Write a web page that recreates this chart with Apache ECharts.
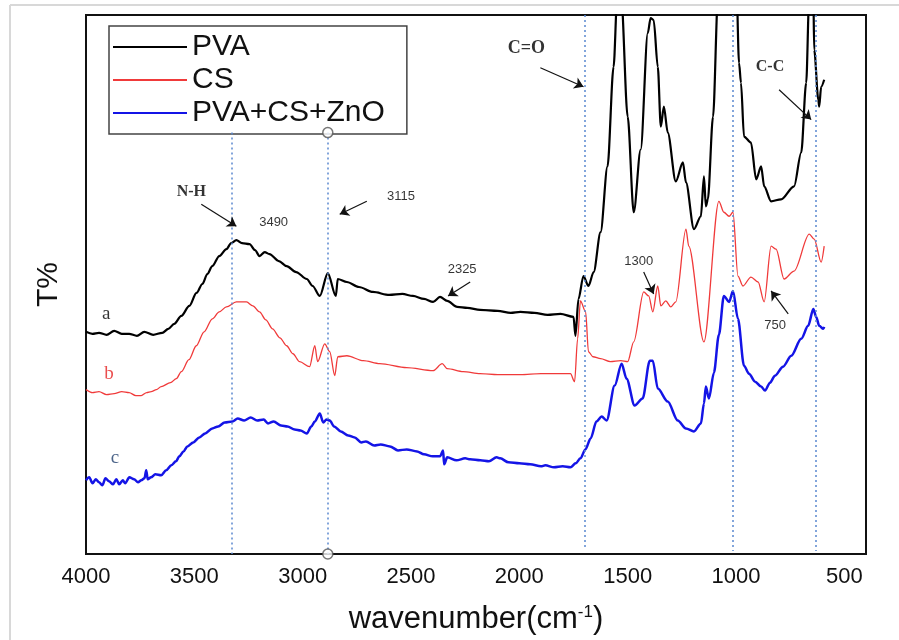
<!DOCTYPE html>
<html><head><meta charset="utf-8">
<script src="https://cdn.jsdelivr.net/npm/echarts@6/dist/echarts.min.js"></script>
<style>html,body{margin:0;padding:0;background:#fff}#c{width:899px;height:640px}</style>
</head><body><div id="c"></div>
<script>
// ---- data (wavenumber cm^-1, relative transmittance, arbitrary units) ----
const seriesNames = ['PVA', 'CS', 'PVA+CS+ZnO'];
const xTickLabels = [4000, 3500, 3000, 2500, 2000, 1500, 1000, 500];

const pva = [
[4000,44.6],[3970,44.2],[3940,44.4],[3905,44.0],[3870,44.8],[3835,44.2],[3801,44.2],[3765,43.8],[3731,44.6],[3690,44.0],[3648,44.4],[3620,45.2],[3593,46.2],[3560,47.8],[3523,49.8],[3490,52.4],[3463,54.2],[3440,56.2],[3417,57.8],[3385,59.8],[3352,61.2],[3330,62.4],[3306,63.0],[3280,62.4],[3245,62.2],[3220,61.0],[3199,59.8],[3175,60.6],[3153,60.2],[3110,58.8],[3074,57.8],[3030,56.6],[2981,55.2],[2954,53.8],[2921,51.8],[2884,56.4],[2847,51.8],[2838,55.2],[2796,54.6],[2740,53.6],[2676,52.6],[2600,52.0],[2540,52.2],[2491,51.8],[2440,51.2],[2398,50.6],[2366,51.6],[2333,50.8],[2287,49.6],[2240,49.4],[2181,49.0],[2100,48.8],[2040,48.4],[1995,48.6],[1930,48.4],[1870,48.0],[1810,48.2],[1750,47.6],[1741,43.8],[1727,51.2],[1704,55.8],[1681,53.8],[1657,56.6],[1625,64.6],[1593,77.8],[1565,97.8],[1548,112],[1530,112],[1500,87.8],[1472,68.6],[1440,81.2],[1407,104.6],[1394,107.6],[1380,107.2],[1361,97.8],[1347,85.8],[1333,89.8],[1315,84.6],[1278,74.8],[1245,78.6],[1231,74.6],[1194,65.2],[1162,67.8],[1148,75.8],[1139,69.8],[1130,71.2],[1106,87.8],[1083,112],[1060,118],[1000,118],[986,98.6],[977,94.6],[963,83.8],[931,82.6],[907,75.2],[884,77.8],[870,73.8],[838,70.8],[792,71.2],[732,73.8],[699,80.6],[676,94.6],[662,112],[643,112],[639,101.2],[620,91.2],[616,89.8],[607,93.8],[593,95.2]
];

const cs = [
[4000,33.0],[3970,32.4],[3940,32.6],[3905,32.0],[3870,32.2],[3835,32.6],[3801,32.4],[3770,31.8],[3745,31.8],[3720,32.4],[3699,32.6],[3675,33.0],[3653,33.6],[3610,34.4],[3583,35.2],[3560,36.6],[3525,39.0],[3491,41.8],[3455,44.6],[3417,47.2],[3385,48.6],[3352,49.6],[3306,50.6],[3259,50.6],[3230,49.8],[3199,48.6],[3170,47.0],[3139,45.2],[3105,43.4],[3074,41.8],[3045,40.2],[3014,38.6],[2968,37.6],[2944,41.8],[2931,38.6],[2898,42.2],[2875,40.6],[2852,35.8],[2838,39.6],[2796,39.8],[2720,38.8],[2644,38.2],[2520,37.4],[2398,36.8],[2356,38.2],[2333,37.2],[2259,36.6],[2181,36.2],[2100,36.0],[1995,36.0],[1900,36.2],[1810,36.2],[1764,36.2],[1745,34.6],[1731,43.2],[1718,50.8],[1694,48.6],[1681,40.6],[1660,39.6],[1625,39.2],[1580,38.6],[1532,38.8],[1500,38.6],[1472,42.6],[1426,52.6],[1403,51.8],[1384,48.6],[1361,53.8],[1347,49.8],[1324,50.8],[1301,49.6],[1278,50.6],[1231,65.2],[1218,61.8],[1148,42.6],[1079,70.8],[1056,68.6],[1032,67.8],[1014,68.6],[991,55.8],[968,53.8],[931,55.6],[898,54.6],[870,50.6],[838,61.8],[815,61.2],[778,55.2],[732,56.8],[662,64.2],[639,63.2],[607,58.6],[593,61.8]
];

const pvaCsZno = [
[4000,14.8],[3985,15.4],[3970,14.2],[3955,15.0],[3940,14.4],[3925,13.8],[3910,15.2],[3894,14.6],[3875,14.0],[3860,15.0],[3847,14.0],[3830,14.8],[3819,14.2],[3800,15.4],[3778,15.0],[3760,14.4],[3745,14.8],[3730,15.2],[3722,16.8],[3715,15.0],[3700,15.4],[3680,16.0],[3653,15.8],[3630,16.8],[3606,17.8],[3585,18.6],[3569,19.6],[3550,20.6],[3532,21.6],[3505,22.4],[3477,23.4],[3450,24.2],[3417,25.2],[3390,25.6],[3360,26.4],[3324,26.6],[3300,27.2],[3270,26.8],[3240,27.4],[3210,26.8],[3180,27.0],[3160,26.2],[3134,26.6],[3100,25.8],[3070,25.6],[3037,25.0],[3010,24.8],[2981,24.2],[2960,25.6],[2944,26.6],[2921,28.2],[2905,26.4],[2890,27.0],[2875,26.8],[2855,25.6],[2824,24.6],[2790,23.8],[2760,23.4],[2730,22.4],[2708,22.6],[2670,21.8],[2640,22.0],[2597,21.6],[2560,20.8],[2520,21.0],[2472,20.6],[2440,20.0],[2400,19.6],[2366,19.6],[2352,20.8],[2347,18.0],[2333,19.4],[2290,18.8],[2250,19.2],[2227,19.0],[2180,18.8],[2140,18.6],[2105,19.4],[2088,19.2],[2050,18.4],[2000,18.2],[1950,18.0],[1900,17.6],[1880,17.8],[1840,17.4],[1800,17.6],[1764,17.4],[1740,18.2],[1718,19.2],[1695,21.0],[1671,23.2],[1644,26.6],[1620,27.6],[1597,26.8],[1560,33.8],[1528,38.2],[1505,35.2],[1468,29.8],[1431,31.2],[1398,38.8],[1384,38.8],[1361,33.2],[1315,30.6],[1269,26.8],[1231,25.2],[1194,24.6],[1162,26.2],[1148,30.2],[1139,33.6],[1125,31.2],[1102,36.4],[1079,44.0],[1056,51.8],[1032,50.6],[1014,52.8],[991,47.2],[963,37.8],[940,36.2],[912,34.6],[884,33.6],[866,32.8],[843,34.4],[820,35.8],[783,37.6],[745,39.8],[699,43.2],[667,45.8],[643,49.2],[630,47.6],[616,45.8],[597,45.2],[593,45.6]
];

// reference band positions (wavenumber)
const bandLines = [3329, 2884, 1699, 1014, 630];

// ---- layout / annotation config ----
const SANS = 'Liberation Sans, Arial, sans-serif';
const SERIF = 'Liberation Serif, Times New Roman, serif';
const bandSpans = [[84.6, 0], [84.6, 0], [108.2, 1.2], [108.2, 0.6], [108.2, 0.6]];
const annotations = [
  {text: 'N-H', at: [3514, 72.6], bold: true, serif: true, size: 16},
  {text: '3490', at: [3134, 66.6], size: 13},
  {text: '3115', at: [2546, 71.8], size: 13},
  {text: '2325', at: [2264, 57.2], size: 13},
  {text: 'C=O', at: [1968, 101.6], bold: true, serif: true, size: 18},
  {text: '1300', at: [1449, 58.8], size: 13},
  {text: 'C-C', at: [843, 97.8], bold: true, serif: true, size: 16},
  {text: '750', at: [819, 45.8], size: 13},
  {text: 'a', at: [3907, 48.2], serif: true, size: 19, color: '#000'},
  {text: 'b', at: [3894, 36.2], serif: true, size: 19, color: '#e52020'},
  {text: 'c', at: [3866, 19.2], serif: true, size: 19, color: '#1f3d6b'}
];
const arrows = [
  [[3468, 70.2], [3306, 65.8]],
  [[2704, 70.8], [2829, 68.2]],
  [[2227, 54.6], [2329, 51.8]],
  [[1903, 97.6], [1704, 93.8]],
  [[801, 93.2], [653, 87.2]],
  [[1426, 56.6], [1380, 52.2]],
  [[759, 48.2], [838, 52.8]]
];

const chart = echarts.init(document.getElementById('c'), null, {renderer: 'canvas'});
chart.setOption({
  animation: false,
  backgroundColor: '#fff',
  graphic: [
    {type: 'line', shape: {x1: 10, y1: 5, x2: 899, y2: 5}, style: {stroke: '#d8d8d8', lineWidth: 2}, silent: true},
    {type: 'line', shape: {x1: 10, y1: 5, x2: 10, y2: 640}, style: {stroke: '#d8d8d8', lineWidth: 2}, silent: true}
  ],
  grid: {left: 86, right: 33, top: 15, bottom: 84, show: true, borderColor: '#111', borderWidth: 2, backgroundColor: 'transparent'},
  legend: {
    data: seriesNames, orient: 'vertical', left: 109, top: 26,
    icon: 'rect', itemWidth: 74, itemHeight: 2, itemGap: 3,
    padding: [6, 22, 6, 4],
    borderColor: '#444', borderWidth: 1.5,
    textStyle: {fontFamily: SANS, fontSize: 30, color: '#111'}
  },
  xAxis: {
    type: 'value', inverse: true, min: 400, max: 4000,
    axisLine: {show: false}, axisTick: {show: false}, splitLine: {show: false},
    axisLabel: {customValues: xTickLabels, formatter: v => String(v), fontFamily: SANS, fontSize: 22, color: '#111', margin: 12},
    name: 'wavenumber(cm{sup|-1})', nameLocation: 'middle', nameGap: 50,
    nameTextStyle: {fontFamily: SANS, fontSize: 31, color: '#111',
      rich: {sup: {fontFamily: SANS, fontSize: 17, color: '#111', verticalAlign: 'top', padding: [0, 0, 14, 0]}}}
  },
  yAxis: {
    type: 'value', min: 0, max: 108.2,
    axisLine: {show: false}, axisTick: {show: false}, splitLine: {show: false}, axisLabel: {show: false},
    name: 'T%', nameLocation: 'middle', nameGap: 22, nameRotate: 90,
    nameTextStyle: {fontFamily: SANS, fontSize: 30, color: '#111'}
  },
  series: [
    {name: seriesNames[0], type: 'line', data: pva, showSymbol: false, smooth: 0.3, smoothMonotone: 'x', color: '#000', lineStyle: {width: 2.2, color: '#000'}, z: 4},
    {name: seriesNames[1], type: 'line', data: cs, showSymbol: false, smooth: 0.3, smoothMonotone: 'x', color: '#f03a3a', lineStyle: {width: 1.3, color: '#f03a3a'}, z: 3},
    {name: seriesNames[2], type: 'line', data: pvaCsZno, showSymbol: false, smooth: 0.3, smoothMonotone: 'x', color: '#1414e6', lineStyle: {width: 2.5, color: '#1414e6'}, z: 3},
    {
      name: 'bands', type: 'line', data: [], silent: true,
      markLine: {
        silent: true, symbol: 'none', label: {show: false},
        lineStyle: {color: '#5a88cf', width: 1.5, type: [2, 3]},
        data: bandLines.map((b, i) => [{coord: [b, bandSpans[i][0]]}, {coord: [b, bandSpans[i][1]]}])
      }
    },
    {
      name: 'handles', type: 'scatter', silent: true, clip: false, z: 6,
      data: [[bandLines[1], bandSpans[1][0]], [bandLines[1], bandSpans[1][1]]],
      symbol: 'circle', symbolSize: 10,
      itemStyle: {color: '#fff', borderColor: '#555', borderWidth: 1.5}
    },
    {
      name: 'notes', type: 'scatter', silent: true, z: 7, symbolSize: 1,
      itemStyle: {color: 'rgba(0,0,0,0)'},
      data: annotations.map(a => ({
        value: a.at,
        label: {show: true, position: 'inside', formatter: a.text,
          fontFamily: a.serif ? SERIF : SANS, fontWeight: a.bold ? 'bold' : 'normal',
          fontSize: a.size, color: a.color || '#000'}
      })),
      markLine: {
        silent: true, symbol: ['none', 'arrow'], symbolSize: 9, label: {show: false},
        lineStyle: {color: '#111', width: 1.2, type: 'solid'},
        data: arrows.map(p => [{coord: p[0]}, {coord: p[1]}])
      }
    }
  ]
});
</script>
</body></html>
